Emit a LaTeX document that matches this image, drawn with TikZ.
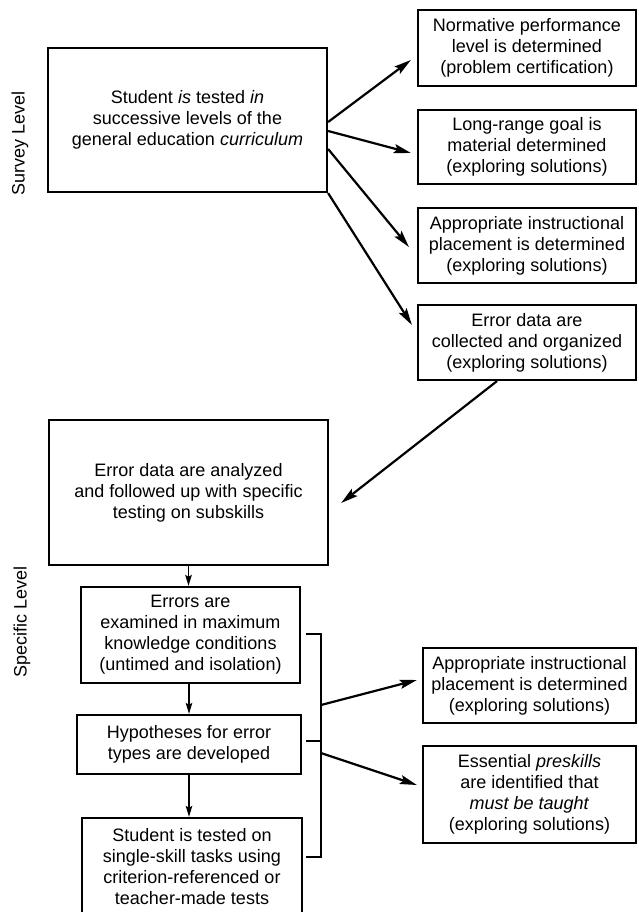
\documentclass[tikz,border=0pt]{standalone}
\usepackage{fontspec}
\setmainfont{Liberation Sans}
\usetikzlibrary{arrows.meta,calc}
\begin{document}
\begin{tikzpicture}[x=1pt,y=-1pt,
  box/.style={draw,line width=2.2pt,align=center,inner sep=0pt,
    font=\fontsize{18}{21}\selectfont},
  arr/.style={line width=2.2pt,-{Stealth[length=17pt,width=9pt,inset=3pt]}},
  sarr/.style={line width=1.8pt,-{Stealth[length=11pt,width=6.5pt,inset=2pt]}},
  brk/.style={line width=2.2pt},
  lvl/.style={rotate=90,font=\fontsize{18}{21}\selectfont}]
\useasboundingbox (0,0) rectangle (638,912);

% level labels
\node[lvl] (survey) at (20,143) {Survey Level};
\node[lvl] (specific) at (22,622) {Specific Level};

% survey level
\node[box,minimum width=279pt,minimum height=144pt] (main) at (187.5,120)
  {Student \textit{is} tested \textit{in}\\successive levels of the\\general education \textit{curriculum}};
\node[box,minimum width=218pt,minimum height=76pt] (b1) at (527,48)
  {Normative performance\\level is determined\\(problem certification)};
\node[box,minimum width=218pt,minimum height=74pt] (b2) at (527,147)
  {Long-range goal is\\material determined\\(exploring solutions)};
\node[box,minimum width=218pt,minimum height=75pt] (b3) at (527,245.5)
  {Appropriate instructional\\placement is determined\\(exploring solutions)};
\node[box,minimum width=218pt,minimum height=75pt] (b4) at (527,342.5)
  {Error data are\\collected and organized\\(exploring solutions)};

% specific level
\node[box,minimum width=279pt,minimum height=145pt] (an) at (188.5,492.5)
  {Error data are analyzed\\and followed up with specific\\testing on subskills};
\node[box,minimum width=219pt,minimum height=96pt] (er) at (190.5,635)
  {Errors are\\examined in maximum\\knowledge conditions\\(untimed and isolation)};
\node[box,minimum width=224pt,minimum height=59pt] (hy) at (189,744.5)
  {Hypotheses for error\\types are developed};
\node[box,minimum width=220pt,minimum height=98pt] (st) at (192,867)
  {Student is tested on\\single-skill tasks using\\criterion-referenced or\\teacher-made tests};
\node[box,minimum width=213pt,minimum height=75pt] (b5) at (529.5,685.5)
  {Appropriate instructional\\placement is determined\\(exploring solutions)};
\node[box,minimum width=213pt,minimum height=97pt] (b6) at (529.5,794.5)
  {Essential \textit{preskills}\\are identified that\\\textit{must be taught}\\(exploring solutions)};

% survey arrows
\draw[arr] ($(main.east)+(0,2)$) -- ($(b1.west)+(-6,12)$);
\draw[arr] ($(main.east)+(0,11)$) -- ($(b2.west)+(-6,6)$);
\draw[arr] ($(main.east)+(0,29)$) -- ($(b3.west)+(-8,1.5)$);
\draw[arr] (main.south east) -- ($(b4.west)+(-5,-17.5)$);
\draw[arr] ($(b4.south)+(-30,0)$) -- ($(an.east)+(12,10.5)$);

% vertical chain
\coordinate (e1) at ($(er.south)+(-1.5,0)$);
\draw[sarr] (an.south) -- (an.south |- er.north);
\draw[sarr] (e1) -- (e1 |- hy.north);
\draw[sarr] (hy.south) -- (hy.south |- st.north);

% bracket
\coordinate (bt0) at (306,634);
\coordinate (bt) at (321,634);
\coordinate (bb) at (321,857);
\coordinate (bb0) at (306,857);
\coordinate (bm0) at (306,741);
\coordinate (bm) at (321,741);
\draw[brk] (bt0) -- (bt) -- (bb) -- (bb0);
\draw[brk] (bm0) -- (bm);
\coordinate (o1) at (321,705);
\coordinate (o2) at (321,753);
\draw[arr] (o1) -- ($(b5.west)+(-5,-5.5)$);
\draw[arr] (o2) -- ($(b6.west)+(-5,-9.5)$);
\end{tikzpicture}
\end{document}
